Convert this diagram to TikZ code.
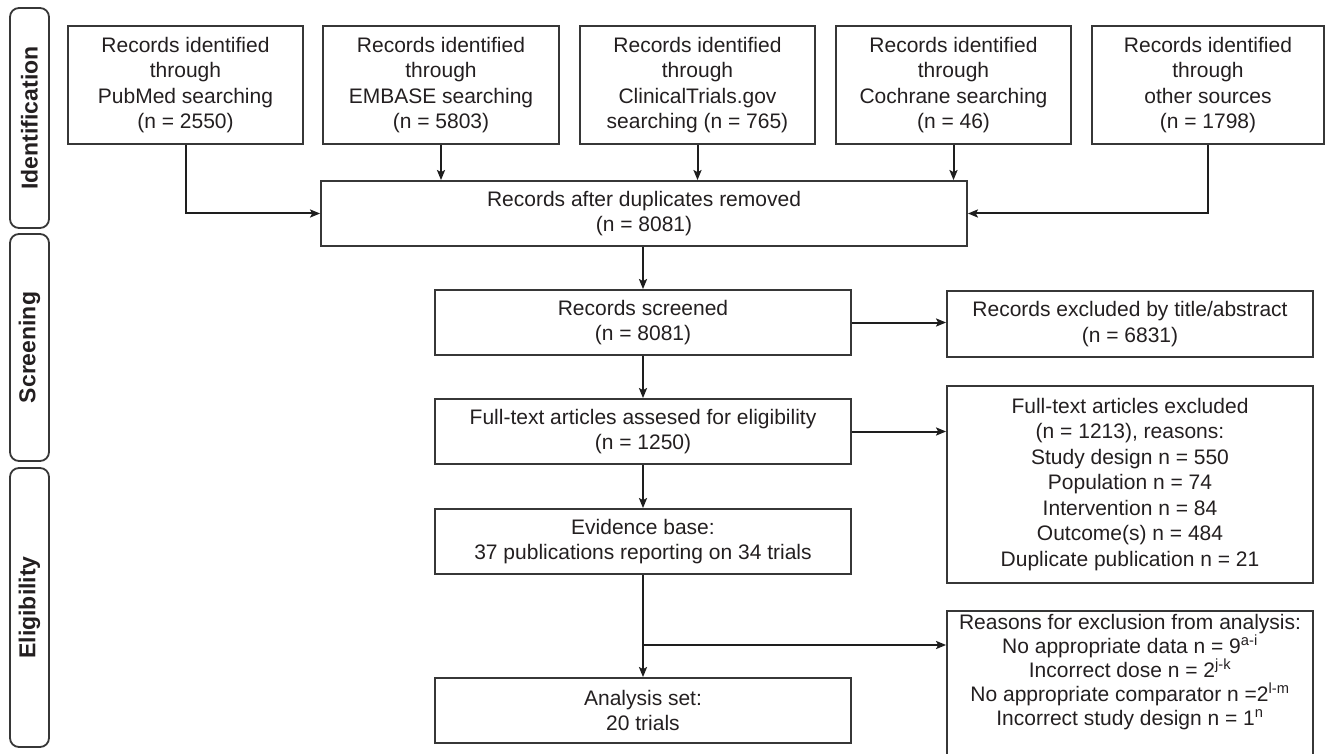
\documentclass[tikz,border=0pt]{standalone}
\usepackage{fontspec}
\setmainfont{Liberation Sans}
\usetikzlibrary{arrows.meta}
\definecolor{txtc}{RGB}{35,31,32}
\definecolor{boxc}{RGB}{55,55,55}
\definecolor{arrc}{RGB}{30,30,30}
\tikzset{
  bx/.style={draw=boxc, line width=1.8pt, align=center, inner sep=0pt, text=txtc,
             font=\fontsize{21}{25.5}\selectfont},
  arr/.style={draw=arrc, line width=2pt, -{Stealth[length=10pt,width=8pt,inset=2pt]}},
  side/.style={draw=boxc, line width=1.8pt, rounded corners=9pt, inner sep=0pt, rotate=90,
               minimum height=39pt, text=txtc, font=\bfseries\fontsize{23}{26}\selectfont},
}
\begin{document}
\begin{tikzpicture}[x=1pt,y=-1pt]
\useasboundingbox (0,0) rectangle (1325,754);
\clip (0,0) rectangle (1325,754);
% phase labels
\node[side, minimum width=220pt] (L1) at (29.5,118) {Identification};
\node[side, minimum width=227pt] (L2) at (29.5,347.5) {Screening};
\node[side, minimum width=279pt] (L3) at (29.5,607.5) {Eligibility};
% identification boxes
\node[bx, minimum width=235pt, minimum height=118pt] (s1) at (185.5,85) {Records identified\\through\\PubMed searching\\(n = 2550)};
\node[bx, minimum width=236pt, minimum height=118pt] (s2) at (441,85) {Records identified\\through\\EMBASE searching\\(n = 5803)};
\node[bx, minimum width=235pt, minimum height=118pt] (s3) at (697.5,85) {Records identified\\through\\ClinicalTrials.gov\\searching (n = 765)};
\node[bx, minimum width=235pt, minimum height=118pt] (s4) at (953.5,85) {Records identified\\through\\Cochrane searching\\(n = 46)};
\node[bx, minimum width=232pt, minimum height=118pt] (s5) at (1208,85) {Records identified\\through\\other sources\\(n = 1798)};
\node[bx, minimum width=646pt, minimum height=65pt] (mid) at (644,213.5) {Records after duplicates removed\\(n = 8081)};
% main column
\node[bx, minimum width=416pt, minimum height=65pt] (scr) at (643,322.5) {Records screened\\(n = 8081)};
\node[bx, minimum width=416pt, minimum height=65pt] (ft) at (643,431.5) {Full-text articles assesed for eligibility\\(n = 1250)};
\node[bx, minimum width=416pt, minimum height=65pt] (evb) at (643,541.5) {Evidence base:\\37 publications reporting on 34 trials};
\node[bx, minimum width=416pt, minimum height=65pt] (an) at (643,710.5) {Analysis set:\\20 trials};
% exclusion boxes
\node[bx, minimum width=366pt, minimum height=66pt] (ex1) at (1130,324) {Records excluded by title/abstract\\(n = 6831)};
\node[bx, minimum width=366pt, minimum height=197pt] (ex2) at (1130,484.5) {Full-text articles excluded\\(n = 1213), reasons:\\Study design n = 550\\Population n = 74\\Intervention n = 84\\Outcome(s) n = 484\\Duplicate publication n = 21};
\node[bx, minimum width=366pt, minimum height=178pt] (rs) at (1130,700) {};
\node[anchor=north, align=center, inner sep=0pt, text=txtc, font=\fontsize{21}{24}\selectfont] (rst) at (1130,614)
  {Reasons for exclusion from analysis:\\No appropriate data n = 9\textsuperscript{a-i}\\Incorrect dose n = 2\textsuperscript{j-k}\\No appropriate comparator n =2\textsuperscript{l-m}\\Incorrect study design n = 1\textsuperscript{n}};
% connectors
\draw[arr] (s1.south) |- (mid.west);
\draw[arr] (s5.south) |- (mid.east);
\draw[arr] (s2.south) -- (s2.south |- mid.north);
\draw[arr] (s3.south) -- (s3.south |- mid.north);
\draw[arr] (s4.south) -- (s4.south |- mid.north);
\draw[arr] (mid.south -| scr.north) -- (scr.north);
\draw[arr] (scr.south) -- (ft.north);
\draw[arr] (ft.south) -- (evb.north);
\draw[arr] (evb.south) -- (an.north);
\draw[arr] (scr.east) -- (scr.east -| ex1.west);
\draw[arr] (ft.east) -- (ft.east -| ex2.west);
\coordinate (br) at (evb.south |- 0,645);
\draw[arr] (br) -- (br -| rs.west);
\end{tikzpicture}
\end{document}
